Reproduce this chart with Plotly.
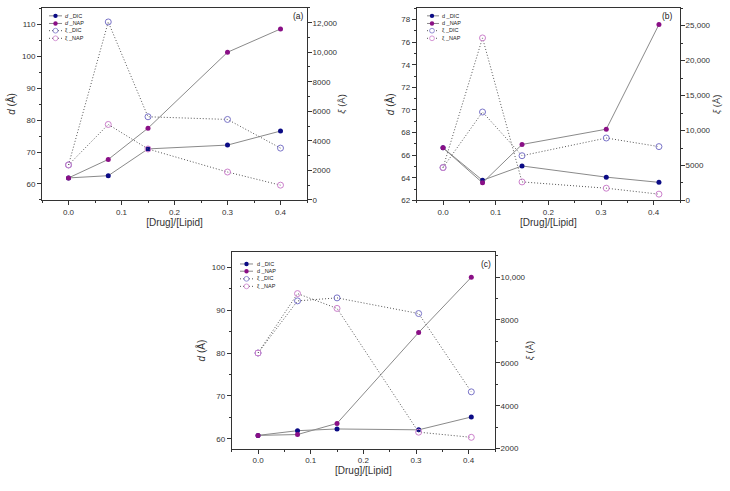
import plotly.graph_objects as go

# ---------------- data ----------------
x_a = [0.0, 0.075, 0.15, 0.30, 0.40]
a_d_dic = [61.9, 62.6, 71.0, 72.2, 76.6]
a_d_nap = [61.9, 67.7, 77.5, 101.3, 108.6]
a_xi_dic = [2370, 12050, 5630, 5450, 3510]
a_xi_nap = [2370, 5110, 3450, 1890, 1000]

x_b = [0.0, 0.075, 0.15, 0.31, 0.41]
b_d_dic = [66.65, 63.78, 65.05, 64.06, 63.6]
b_d_nap = [66.65, 63.56, 66.95, 68.3, 77.56]
b_xi_dic = [4700, 12650, 6400, 8930, 7700]
b_xi_nap = [4700, 23250, 2650, 1750, 900]

x_c = [0.0, 0.075, 0.15, 0.305, 0.405]
c_d_dic = [60.8, 61.9, 62.3, 62.1, 65.1]
c_d_nap = [60.8, 61.0, 63.6, 84.8, 97.7]
c_xi_dic = [6460, 8890, 9030, 8300, 4650]
c_xi_nap = [6460, 9230, 8540, 2770, 2530]

x_tickvals = [0.0, 0.1, 0.2, 0.3, 0.4]
x_ticktext = ["0.0", "0.1", "0.2", "0.3", "0.4"]

a_left_ticks = [60, 70, 80, 90, 100, 110]
a_right_ticks = [0, 2000, 4000, 6000, 8000, 10000, 12000]
a_right_text = ["0", "2000", "4000", "6000", "8000", "10,000", "12,000"]

b_left_ticks = [62, 64, 66, 68, 70, 72, 74, 76, 78]
b_right_ticks = [0, 5000, 10000, 15000, 20000, 25000]
b_right_text = ["0", "5000", "10,000", "15,000", "20,000", "25,000"]

c_left_ticks = [60, 70, 80, 90, 100]
c_right_ticks = [2000, 4000, 6000, 8000, 10000]
c_right_text = ["2000", "4000", "6000", "8000", "10,000"]

series_names = ["d _DIC", "d _NAP", "ξ _DIC", "ξ _NAP"]
panel_labels = ["(a)", "(b)", "(c)"]
x_title = "[Drug]/[Lipid]"
left_title = "<i>d</i> (Å)"
right_title = "<i>ξ</i> (Å)"

# ---------------- style ----------------
W, H = 730, 491
FONT = "Liberation Sans, Arial, sans-serif"
AX = "#333333"
TXT = "#333333"
C_DDIC = "#0b0b85"
C_DNAP = "#8a0f86"
C_XDIC = "#7a74c8"
C_XNAP = "#cc80cc"
LINE_D = "#8a8a8a"
LINE_X = "#555555"
DOT = "1px,2px"


def fx(p):
    return p / W


def fy(p):
    return 1 - p / H


panels = [
    dict(x=x_a, d=[a_d_dic, a_d_nap], xi=[a_xi_dic, a_xi_nap],
         box=(42, 307, 8, 202), lr=[55.0, 115.2], rr=[0, 13000],
         lt=a_left_ticks, lminor=5, rt=a_right_ticks, rtt=a_right_text, rminor=1000,
         leg=dict(l0=49, l1=62, m=55.5, t=63, ys=[16, 23.7, 31, 38.7]),
         lab=(298, 16), dital=True),
    dict(x=x_b, d=[b_d_dic, b_d_nap], xi=[b_xi_dic, b_xi_nap],
         box=(416.7, 680, 8.3, 202.5), lr=[62.0, 79.0], rr=[0, 27500],
         lt=b_left_ticks, lminor=1, rt=b_right_ticks, rtt=b_right_text, rminor=2500,
         leg=dict(l0=427, l1=439, m=432, t=440, ys=[16, 23.7, 31, 38.7]),
         lab=(667, 16), dital=False),
    dict(x=x_c, d=[c_d_dic, c_d_nap], xi=[c_xi_dic, c_xi_nap],
         box=(231.7, 495, 255, 453.3), lr=[57.7, 103.5], rr=[2000, 11150],
         lt=c_left_ticks, lminor=5, rt=c_right_ticks, rtt=c_right_text, rminor=1000,
         leg=dict(l0=240, l1=253, m=246.5, t=255, ys=[266.7, 274, 281.7, 289.3]),
         lab=(486, 267), dital=False),
]

fig = go.Figure()
layout = dict(
    width=W, height=H,
    margin=dict(l=0, r=0, t=0, b=0),
    paper_bgcolor="white", plot_bgcolor="white",
    showlegend=False,
    font=dict(family=FONT, color=TXT, size=8),
)
shapes = []
annotations = []

for i, p in enumerate(panels, start=1):
    x0, x1, y0, y1 = p["box"]
    xa = "xaxis" if i == 1 else f"xaxis{i}"
    ya = "yaxis" if i == 1 else f"yaxis{i}"
    yr = f"yaxis{i + 3}"
    xref = "x" if i == 1 else f"x{i}"
    yref = "y" if i == 1 else f"y{i}"
    yrref = f"y{i + 3}"

    layout[xa] = dict(
        domain=[fx(x0), fx(x1)], anchor=yref, range=[-0.05, 0.45],
        showline=True, linecolor=AX, linewidth=1, mirror=True,
        ticks="outside", ticklen=4, tickcolor=AX, tickwidth=1,
        tickmode="array", tickvals=x_tickvals, ticktext=x_ticktext,
        minor=dict(tickmode="linear", tick0=0, dtick=0.05, ticks="outside",
                   ticklen=2, tickcolor=AX),
        showgrid=False, zeroline=False,
        tickfont=dict(size=8, color=TXT),
        title=dict(text=x_title, font=dict(size=10, color=TXT), standoff=2),
    )
    layout[ya] = dict(
        domain=[fy(y1), fy(y0)], anchor=xref, range=p["lr"],
        showline=True, linecolor=AX, linewidth=1,
        ticks="outside", ticklen=4, tickcolor=AX,
        tickmode="array", tickvals=p["lt"],
        minor=dict(tickmode="linear", tick0=0, dtick=p["lminor"], ticks="outside",
                   ticklen=2, tickcolor=AX),
        showgrid=False, zeroline=False,
        tickfont=dict(size=8, color=TXT),
        title=dict(text=left_title, font=dict(size=10, color=TXT), standoff=4),
    )
    layout[yr] = dict(
        overlaying=yref, side="right", anchor=xref, range=p["rr"],
        showline=True, linecolor=AX, linewidth=1,
        ticks="outside", ticklen=4, tickcolor=AX,
        tickmode="array", tickvals=p["rt"], ticktext=p["rtt"],
        ticklabelstandoff=-1,
        minor=dict(tickmode="linear", tick0=0, dtick=p["rminor"], ticks="outside",
                   ticklen=2, tickcolor=AX),
        showgrid=False, zeroline=False,
        tickfont=dict(size=8, color=TXT),
        title=dict(text=right_title, font=dict(size=9.5, color=TXT), standoff=1),
    )

    d_cols = [C_DDIC, C_DNAP]
    x_cols = [C_XDIC, C_XNAP]
    for k in range(2):
        fig.add_trace(go.Scatter(
            x=p["x"], y=p["d"][k], xaxis=xref, yaxis=yref, mode="lines+markers",
            name=series_names[k],
            line=dict(color=LINE_D, width=1),
            marker=dict(color=d_cols[k], size=5, line=dict(width=0)),
        ))
    for k in range(2):
        fig.add_trace(go.Scatter(
            x=p["x"], y=p["xi"][k], xaxis=xref, yaxis=yrref, mode="lines+markers",
            name=series_names[k + 2],
            line=dict(color=LINE_X, width=1, dash=DOT),
            marker=dict(symbol="circle-open", color=x_cols[k], size=6,
                        line=dict(width=1, color=x_cols[k])),
        ))

    # compact legend (decoration)
    lg = p["leg"]
    cols = [C_DDIC, C_DNAP, C_XDIC, C_XNAP]
    for k in range(4):
        yy = lg["ys"][k]
        dash = "solid" if k < 2 else DOT
        lc = LINE_D if k < 2 else LINE_X
        shapes.append(dict(type="line", xref="paper", yref="paper",
                           x0=fx(lg["l0"]), x1=fx(lg["l1"]), y0=fy(yy), y1=fy(yy),
                           line=dict(color=lc, width=1, dash=dash)))
        if k < 2:
            shapes.append(dict(type="circle", xref="paper", yref="paper",
                               xsizemode="pixel", ysizemode="pixel",
                               xanchor=fx(lg["m"]), yanchor=fy(yy),
                               x0=-2.2, x1=2.2, y0=-2.2, y1=2.2,
                               fillcolor=cols[k], line=dict(width=0)))
        else:
            shapes.append(dict(type="circle", xref="paper", yref="paper",
                               xsizemode="pixel", ysizemode="pixel",
                               xanchor=fx(lg["m"]), yanchor=fy(yy),
                               x0=-2.4, x1=2.4, y0=-2.4, y1=2.4,
                               fillcolor="white", line=dict(width=0.8, color=cols[k])))
        name = series_names[k]
        if k < 2 and p["dital"]:
            name = "<i>d</i> _" + name.split("_")[1]
        annotations.append(dict(
            x=fx(lg["t"]), y=fy(yy), xref="paper", yref="paper",
            xanchor="left", yanchor="middle", showarrow=False,
            text=name, font=dict(size=5.5, color="#222")))

    annotations.append(dict(
        x=fx(p["lab"][0]), y=fy(p["lab"][1]), xref="paper", yref="paper",
        xanchor="center", yanchor="middle", showarrow=False,
        text=panel_labels[i - 1], font=dict(size=8.5, color="#222")))

layout["shapes"] = shapes
layout["annotations"] = annotations
fig.update_layout(**layout)
fig.write_html(
    "out.html",
    config={"displayModeBar": False},
    post_script="document.body.style.margin='0';document.body.style.padding='0';",
)
